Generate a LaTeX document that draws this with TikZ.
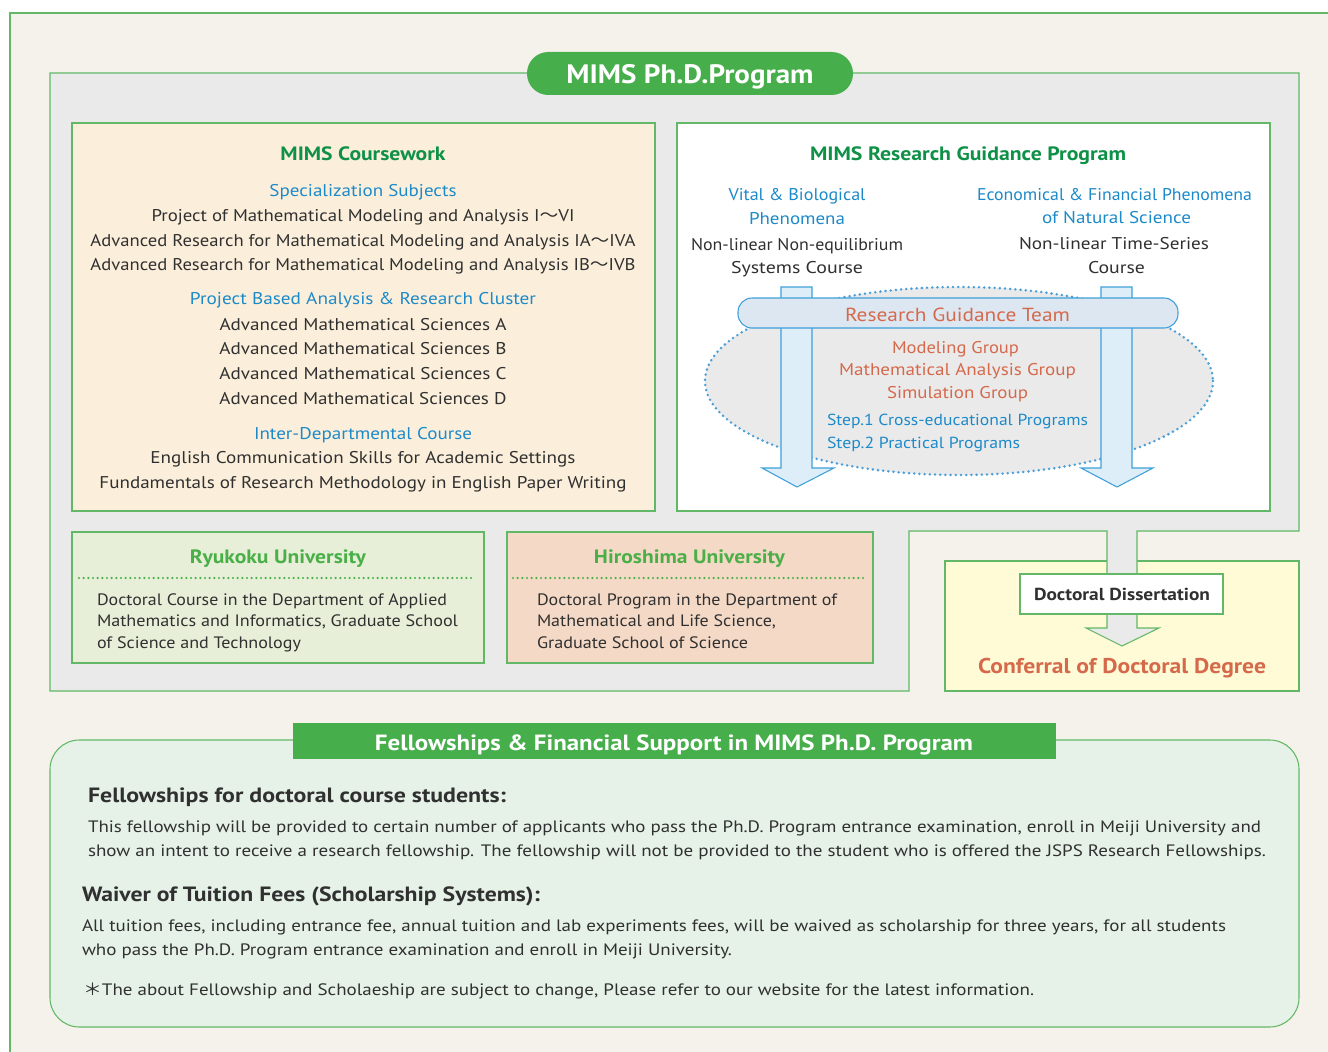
\documentclass[tikz,border=0pt]{standalone}
\usepackage{fontspec}
\usepackage{graphicx}
\setmainfont{PT Sans}
\newfontfamily\cjk{Noto Sans CJK JP}
\newcommand\fw[2]{\resizebox{\dimexpr #1pt*3/4\relax}{\height}{#2}}
\newcommand\wv{{\cjk 〜}}
\definecolor{beige}{HTML}{F5F2EB}
\definecolor{panel}{HTML}{EAEAEA}
\definecolor{gline}{HTML}{62B866}
\definecolor{tgreen}{HTML}{46AE4A}
\definecolor{dgreen}{HTML}{0E9146}
\definecolor{ugreen}{HTML}{4AAF47}
\definecolor{cblue}{HTML}{1C8AC9}
\definecolor{orng}{HTML}{D5694B}
\definecolor{ink}{HTML}{303030}
\definecolor{cream}{HTML}{FBEFDB}
\definecolor{yel}{HTML}{FFFBD6}
\definecolor{ryu}{HTML}{E7EFD9}
\definecolor{hiro}{HTML}{F4D9C6}
\definecolor{mint}{HTML}{E6F2E7}
\definecolor{afill}{HTML}{DDEEF9}
\definecolor{ablue}{HTML}{3EA0DA}
\definecolor{barfill}{HTML}{DDE7F2}
\definecolor{dotb}{HTML}{4A9FD8}
\begin{document}
\begin{tikzpicture}[x=0.75pt,y=-0.75pt,
  gborder/.style={draw=gline, line width=0.8pt},
  t/.style={anchor=base, inner sep=0pt, outer sep=0pt, text=ink, font=\fontsize{12.75}{14}\selectfont},
  tl/.style={t, anchor=base west},
  tblue/.style={t, text=cblue},
  torng/.style={t, text=orng},
  thead/.style={t, text=dgreen, font=\fontsize{14.5}{16}\selectfont\bfseries},
  uhead/.style={t, text=ugreen, font=\fontsize{14.5}{16}\selectfont\bfseries},
  utext/.style={tl, font=\fontsize{12.4}{14}\selectfont},
  ptext/.style={tl, font=\fontsize{12.4}{14}\selectfont},
  phead/.style={tl, font=\fontsize{15.5}{17}\selectfont\bfseries},
  bluearrow/.style={draw=ablue, fill=afill, line width=0.8pt, line join=miter},
  dotell/.style={draw=dotb, line width=2.1pt, line cap=round, dash pattern=on 0pt off 3.9pt},
  dotgreen/.style={draw=ugreen, line width=1.8pt, line cap=round, dash pattern=on 0pt off 3.5pt},
]
\useasboundingbox (0,0) rectangle (1328,1052);
\fill[white] (0,0) rectangle (1328,1052);
\fill[beige] (10,13) rectangle (1328,1052);
\draw[gborder] (1328,13) -- (10,13) -- (10,1052);

% yellow conferral box
\draw[gborder, fill=yel] (945,561) rectangle (1299,691);

% grey programme panel with strip and arrow head
\draw[gborder, fill=panel, line join=miter] (50,73) -- (1299,73) -- (1299,531) -- (1137,531) -- (1137,628) -- (1159,628) -- (1122,646) -- (1086,628) -- (1107,628) -- (1107,531) -- (909,531) -- (909,691) -- (50,691) -- cycle;

% title pill
\fill[tgreen, rounded corners=16pt] (527,52) rectangle (853,95);
\node[t, text=white, font=\fontsize{20}{22}\selectfont\bfseries] (ptitle) at (690,83.5) {\fw{247}{MIMS Ph.D.Program}};

% coursework box
\draw[gborder, fill=cream] (72,123) rectangle (655,511);
\node[thead] (cw) at (363,160.5) {\fw{165}{MIMS Coursework}};
\node[tblue] (cw1) at (363,197) {\fw{187}{Specialization Subjects}};
\node[t] (cw2) at (363,221) {\fw{423}{Project of Mathematical Modeling and Analysis I\wv VI}};
\node[t] (cw3) at (363,246) {\fw{545}{Advanced Research for Mathematical Modeling and Analysis IA\wv IVA}};
\node[t] (cw4) at (363,270) {\fw{545}{Advanced Research for Mathematical Modeling and Analysis IB\wv IVB}};
\node[tblue] (cw5) at (363,305) {\fw{346}{Project Based Analysis \& Research Cluster}};
\node[t] (cw6) at (363,330) {\fw{287}{Advanced Mathematical Sciences A}};
\node[t] (cw7) at (363,354) {\fw{287}{Advanced Mathematical Sciences B}};
\node[t] (cw8) at (363,379) {\fw{287}{Advanced Mathematical Sciences C}};
\node[t] (cw9) at (363,404) {\fw{287}{Advanced Mathematical Sciences D}};
\node[tblue] (cw10) at (363,439) {\fw{218}{Inter-Departmental Course}};
\node[t] (cw11) at (363,463) {\fw{425}{English Communication Skills for Academic Settings}};
\node[t] (cw12) at (363,488) {\fw{527}{Fundamentals of Research Methodology in English Paper Writing}};

% research guidance box
\draw[gborder, fill=white] (677,123) rectangle (1270,511);
\node[thead] (rg) at (968,160.5) {\fw{316}{MIMS Research Guidance Program}};
\node[tblue] (v1) at (797,201) {\fw{137}{Vital \& Biological}};
\node[tblue] (v2) at (797,224) {\fw{96}{Phenomena}};
\node[t] (v3) at (797,250) {\fw{212}{Non-linear Non-equilibrium}};
\node[t] (v4) at (797,273) {\fw{132}{Systems Course}};
\node[tblue] (e1) at (1114.5,201) {\fw{275}{Economical \& Financial Phenomena}};
\node[tblue] (e2) at (1116.5,224) {\fw{149}{of Natural Science}};
\node[t] (e3) at (1114,250) {\fw{190}{Non-linear Time-Series}};
\node[t] (e4) at (1116.5,273) {\fw{57}{Course}};

\draw[dotell, fill=panel] (959,381) ellipse [x radius=254, y radius=94];
\draw[bluearrow] (781,287) -- (781,468) -- (762,468) -- (797,487) -- (834,468) -- (812,468) -- (812,287) -- cycle;
\draw[bluearrow] (1101,287) -- (1101,468) -- (1081,468) -- (1117,487) -- (1153,468) -- (1132,468) -- (1132,287) -- cycle;
\draw[draw=ablue, fill=barfill, line width=0.8pt, rounded corners=10.5pt] (738,298) rectangle (1178,328);
\node[torng, font=\fontsize{14.2}{16}\selectfont] (team) at (957.5,321.5) {\fw{225}{Research Guidance Team}};
\node[torng] (g1) at (955.5,353) {\fw{127}{Modeling Group}};
\node[torng] (g2) at (957.5,375) {\fw{237}{Mathematical Analysis Group}};
\node[torng] (g3) at (957.5,398) {\fw{141}{Simulation Group}};
\node[tblue, anchor=base west, font=\fontsize{12}{14}\selectfont] (s1) at (827,425.5) {\fw{261}{Step.1 Cross-educational Programs}};
\node[tblue, anchor=base west, font=\fontsize{12}{14}\selectfont] (s2) at (827,448.5) {\fw{193}{Step.2 Practical Programs}};

% universities
\draw[gborder, fill=ryu] (72,532) rectangle (484,663);
\node[uhead] (ryu) at (278,563.5) {\fw{176}{Ryukoku University}};
\draw[dotgreen] (79,578) -- (472,578);
\node[utext] (r1) at (97,605) {\fw{350}{Doctoral Course in the Department of Applied}};
\node[utext] (r2) at (97,626) {\fw{361}{Mathematics and Informatics, Graduate School}};
\node[utext] (r3) at (97,648) {\fw{204}{of Science and Technology}};

\draw[gborder, fill=hiro] (507,532) rectangle (873,663);
\node[uhead] (hiro) at (689.5,563.5) {\fw{191}{Hiroshima University}};
\draw[dotgreen] (513,578) -- (864,578);
\node[utext] (h1) at (537,605) {\fw{300}{Doctoral Program in the Department of}};
\node[utext] (h2) at (537,626) {\fw{239}{Mathematical and Life Science,}};
\node[utext] (h3) at (537,648) {\fw{211}{Graduate School of Science}};

% doctoral dissertation
\node[draw=gline, line width=0.8pt, fill=white, minimum width=152.25pt, minimum height=30pt, inner sep=0pt] (dd) at (1121.5,594) {};
\node[t, font=\fontsize{13}{15}\selectfont\bfseries] (ddt) at (1122,600) {\fw{176}{Doctoral Dissertation}};
\node[t, text=orng, font=\fontsize{16}{18}\selectfont\bfseries] (conf) at (1122,673.5) {\fw{288}{Conferral of Doctoral Degree}};

% fellowships
\draw[gborder, fill=mint, rounded corners=22pt] (50,740) rectangle (1299,1027);
\fill[tgreen] (293,723) rectangle (1056,759);
\node[t, text=white, font=\fontsize{16.5}{18}\selectfont\bfseries] (banner) at (674,750.5) {\fw{598}{Fellowships \& Financial Support in MIMS Ph.D. Program}};
\node[phead] (f1) at (88,802) {\fw{418}{Fellowships for doctoral course students:}};
\node[ptext] (f2) at (88,832) {\fw{1173}{This fellowship will be provided to certain number of applicants who pass the Ph.D. Program entrance examination, enroll in Meiji University and}};
\node[ptext] (f3) at (88,856) {\fw{1178}{show an intent to receive a research fellowship. The fellowship will not be provided to the student who is offered the JSPS Research Fellowships.}};
\node[phead] (w1) at (82,901) {\fw{458}{Waiver of Tuition Fees (Scholarship Systems):}};
\node[ptext] (w2) at (82,931) {\fw{1144}{All tuition fees, including entrance fee, annual tuition and lab experiments fees, will be waived as scholarship for three years, for all students}};
\node[ptext] (w3) at (82,955) {\fw{650}{who pass the Ph.D. Program entrance examination and enroll in Meiji University.}};
\node[ptext] (note) at (83,995) {\fw{951}{{\cjk ＊}The about Fellowship and Scholaeship are subject to change, Please refer to our website for the latest information.}};
\end{tikzpicture}
\end{document}
